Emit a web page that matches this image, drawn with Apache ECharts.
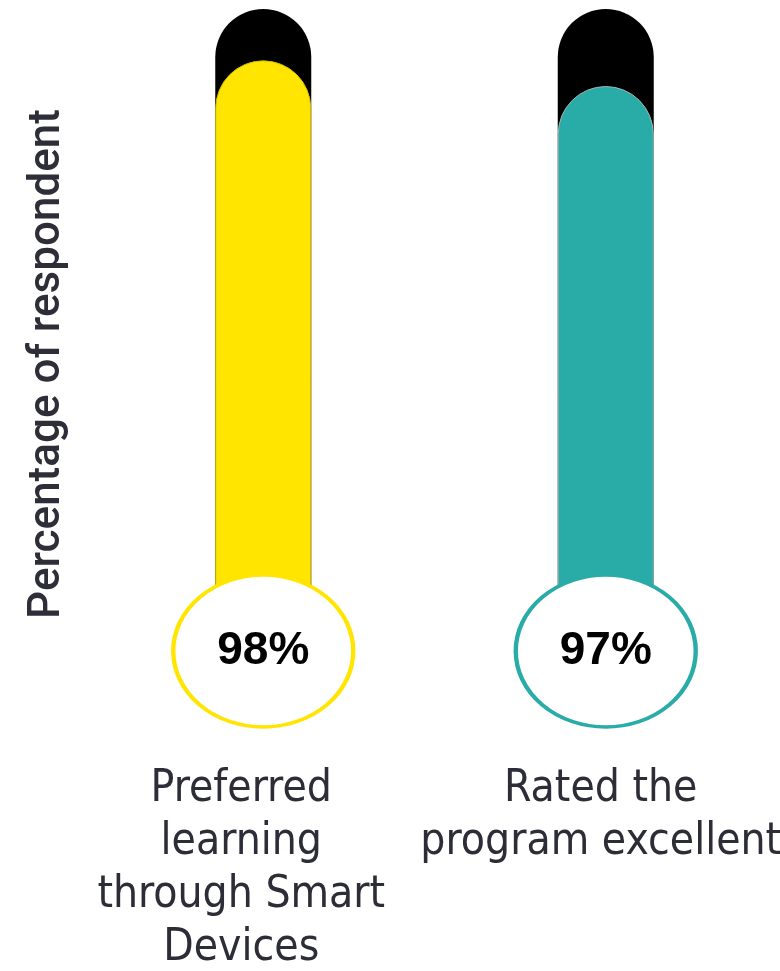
<!DOCTYPE html>
<html>
<head>
<meta charset="utf-8">
<script src="https://cdn.jsdelivr.net/npm/echarts@6/dist/echarts.min.js"></script>
<style>
  html, body { margin: 0; padding: 0; background: #ffffff; }
  #chart { width: 780px; height: 971px; }
</style>
</head>
<body>
<div id="chart"></div>
<script>
const categories = ['Preferred\nlearning\nthrough Smart\nDevices', 'Rated the\nprogram excellent'];
const percentValues = [98, 97];
const totalValues = [100, 100];
const barColors = ['#FFE500', '#29ABA8'];
const barEdgeColors = ['#D2BE00', '#9FB7B5'];
const axisMin = 75;
const axisMax = 100;
const yAxisTitle = 'Percentage of respondent';

const chart = echarts.init(document.getElementById('chart'), null, { renderer: 'canvas' });

const labelShift = [44, 10];
const rich = {};
categories.forEach((c, i) => {
  rich['c' + i] = {
    fontFamily: "'Liberation Sans Narrow', 'DejaVu Sans Condensed', 'Roboto', sans-serif",
    fontSize: 44,
    lineHeight: 53,
    color: '#2D2D38',
    padding: [0, labelShift[i], 0, 0]
  };
});

const option = {
  animation: false,
  backgroundColor: '#ffffff',
  grid: { left: 92, width: 685, top: 9, height: 642, containLabel: false, outerBoundsMode: 'none' },
  xAxis: {
    type: 'category',
    data: categories,
    axisLine: { show: false },
    axisTick: { show: false },
    splitLine: { show: false },
    axisLabel: {
      margin: 112,
      interval: 0,
      hideOverlap: false,
      verticalAlign: 'top',
      formatter: (v, i) => v.split('\n').map(l => '{c' + i + '|' + l + '}').join('\n'),
      rich: rich
    }
  },
  yAxis: {
    type: 'value',
    min: axisMin,
    max: axisMax,
    name: yAxisTitle,
    nameLocation: 'middle',
    nameRotate: 90,
    nameGap: 22,
    nameTextStyle: {
      fontFamily: 'Roboto, sans-serif',
      fontWeight: 500,
      fontSize: 44,
      color: '#2E2E38',
      padding: [0, 68, 0, 0]
    },
    axisLine: { show: false },
    axisTick: { show: false },
    axisLabel: { show: false },
    splitLine: { show: false }
  },
  series: [
    {
      name: 'Total',
      type: 'bar',
      barWidth: 96,
      barGap: '-100%',
      data: totalValues,
      itemStyle: { color: '#000000', borderRadius: [48, 48, 0, 0] },
      z: 1
    },
    {
      name: 'Share',
      type: 'bar',
      barWidth: 96,
      barGap: '-100%',
      data: percentValues.map((v, i) => ({
        value: v,
        itemStyle: { color: barColors[i], borderColor: barEdgeColors[i], borderWidth: 1, borderRadius: [48, 48, 0, 0] }
      })),
      z: 2
    },
    {
      name: 'Badge',
      type: 'scatter',
      symbol: 'circle',
      symbolSize: [180, 152],
      data: categories.map((c, i) => ({
        value: [c, axisMin],
        itemStyle: { color: '#ffffff', borderColor: barColors[i], borderWidth: 4, opacity: 1 }
      })),
      label: {
        show: true,
        position: 'inside',
        formatter: (p) => percentValues[p.dataIndex] + '%',
        fontFamily: "'Liberation Sans', Arial, sans-serif",
        fontWeight: 'bold',
        fontSize: 46,
        color: '#000000'
      },
      clip: false,
      z: 5
    }
  ]
};
chart.setOption(option);
</script>
</body>
</html>
